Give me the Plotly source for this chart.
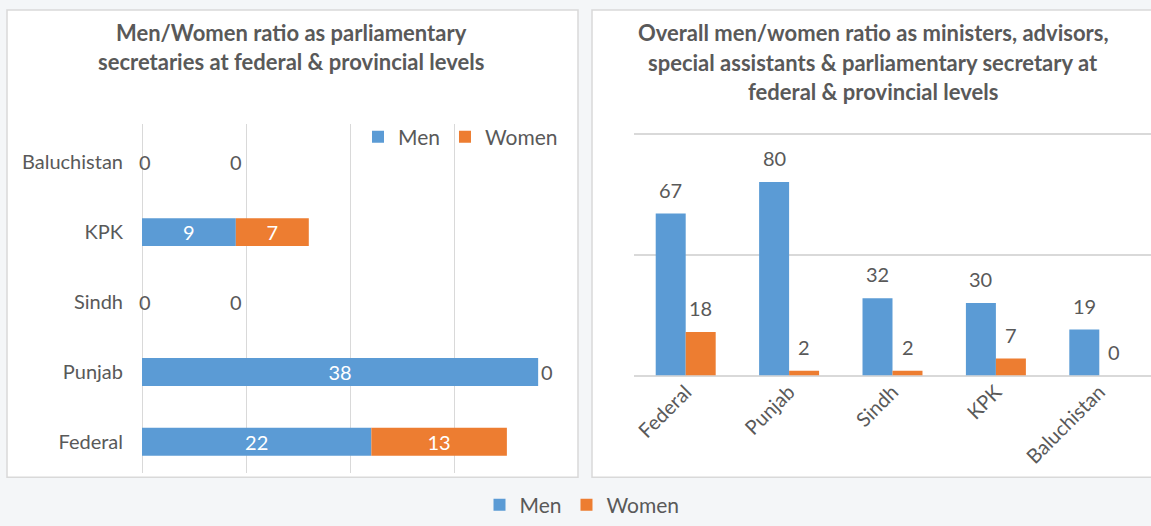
import plotly.graph_objects as go

# ---- data ----
left_cats = ["Federal", "Punjab", "Sindh", "KPK", "Baluchistan"]
left_men = [22, 38, 0, 9, 0]
left_women = [13, 0, 0, 7, 0]

right_cats = ["Federal", "Punjab", "Sindh", "KPK", "Baluchistan"]
right_men = [67, 80, 32, 30, 19]
right_women = [18, 2, 2, 7, 0]

left_title = ["Men/Women ratio as parliamentary",
              "secretaries at federal & provincial levels"]
right_title = ["Overall men/women ratio as ministers, advisors,",
               "special assistants & parliamentary secretary at",
               "federal & provincial levels"]

BLUE = "#5B9BD5"
ORANGE = "#ED7D31"
GRAY = "#595959"
GRID = "#d9d9d9"
FONT = "Lato"
W, H = 1151, 526
TITLE_SIZE = 22
LABEL_SIZE = 20
LEGEND_SIZE = 21

def px(x):
    return x / W

def py(y):
    return 1 - y / H

fig = go.Figure()

# left stacked horizontal bars (stacked via base so the right chart can stay grouped)
fig.add_trace(go.Bar(
    y=left_cats, x=left_men, orientation="h", name="Men",
    width=0.4, offset=-0.2,
    marker=dict(color=BLUE, line=dict(width=0)),
    text=[str(v) if v else "" for v in left_men],
    textposition="inside", insidetextanchor="middle", constraintext="none",
    textangle=0,
    textfont=dict(color="white", size=LABEL_SIZE, family=FONT),
    xaxis="x", yaxis="y", legend="legend",
))
fig.add_trace(go.Bar(
    y=left_cats, x=left_women, base=left_men, orientation="h", name="Women",
    width=0.4, offset=-0.2,
    marker=dict(color=ORANGE, line=dict(width=0)),
    text=[str(v) if v else "" for v in left_women],
    textposition="inside", insidetextanchor="middle", constraintext="none",
    textangle=0,
    textfont=dict(color="white", size=LABEL_SIZE, family=FONT),
    xaxis="x", yaxis="y", legend="legend",
))

# right grouped bars
fig.add_trace(go.Bar(
    x=right_cats, y=right_men, name="Men", width=0.29, offset=-0.29,
    marker=dict(color=BLUE, line=dict(width=0)),
    xaxis="x2", yaxis="y2", legend="legend2",
))
fig.add_trace(go.Bar(
    x=right_cats, y=right_women, name="Women", width=0.29, offset=0,
    marker=dict(color=ORANGE, line=dict(width=0)),
    xaxis="x2", yaxis="y2", legend="legend2",
))

annotations = []
lab_font = dict(color=GRAY, size=LABEL_SIZE, family=FONT)
# zero labels in the left chart (as placed in the original)
for cat, m, w in zip(left_cats, left_men, left_women):
    if m == 0 and w == 0:
        annotations.append(dict(x=0, y=cat, xref="x", yref="y", text="0",
                                showarrow=False, xanchor="center", xshift=3,
                                font=lab_font))
        annotations.append(dict(x=9, y=cat, xref="x", yref="y", text="0",
                                showarrow=False, xanchor="center", font=lab_font))
    elif w == 0:
        annotations.append(dict(x=m + w, y=cat, xref="x", yref="y", text="0",
                                showarrow=False, xanchor="left", xshift=1,
                                font=lab_font))

# value labels above the right chart's bars
for cat, m, w in zip(right_cats, right_men, right_women):
    annotations.append(dict(x=cat, y=m, xref="x2", yref="y2", text=str(m),
                            showarrow=False, xanchor="center", yanchor="middle",
                            xshift=-15, yshift=24, font=lab_font))
    annotations.append(dict(x=cat, y=w, xref="x2", yref="y2", text=str(w),
                            showarrow=False, xanchor="center", yanchor="middle",
                            xshift=15, yshift=24, font=lab_font))

for i, line in enumerate(left_title):
    annotations.append(dict(x=px(291), y=py(33 + 29 * i), xref="paper", yref="paper",
                            text="<b>" + line + "</b>", showarrow=False,
                            xanchor="center", yanchor="middle",
                            font=dict(color=GRAY, size=TITLE_SIZE, family=FONT)))
for i, line in enumerate(right_title):
    annotations.append(dict(x=px(873), y=py(33 + 29.5 * i), xref="paper", yref="paper",
                            text="<b>" + line + "</b>", showarrow=False,
                            xanchor="center", yanchor="middle",
                            font=dict(color=GRAY, size=TITLE_SIZE, family=FONT)))

shapes = [
    dict(type="rect", xref="paper", yref="paper", x0=px(7), x1=px(578),
         y0=py(480), y1=py(10), fillcolor="white",
         line=dict(color="#d9d9d9", width=1.5), layer="below"),
    dict(type="rect", xref="paper", yref="paper", x0=px(592), x1=px(1170),
         y0=py(480), y1=py(10), fillcolor="white",
         line=dict(color="#d9d9d9", width=1.5), layer="below"),
]

# right value axis: 0..102 so the gridline at 100 stays inside the plot area
R_ZERO_PX = 377.7
R_PX_PER_UNIT = 2.432
R_MAX = 102

fig.update_layout(
    width=W, height=H,
    margin=dict(l=0, r=0, t=0, b=0),
    paper_bgcolor="#f4f6f8", plot_bgcolor="rgba(0,0,0,0)",
    font=dict(family=FONT, color=GRAY, size=LABEL_SIZE),
    barmode="group",
    showlegend=True,
    shapes=shapes, annotations=annotations,
    xaxis=dict(domain=[px(142), px(559)], range=[0, 40], tickvals=[0, 10, 20, 30],
               showticklabels=False, showgrid=True, gridcolor=GRID, gridwidth=1,
               zeroline=True, zerolinecolor=GRID, zerolinewidth=1,
               showline=False, anchor="y", fixedrange=True),
    yaxis=dict(domain=[py(476), py(124.5)], categoryorder="array",
               categoryarray=left_cats, range=[-0.45, 4.55],
               showgrid=False, zeroline=False,
               showline=False, ticks="", ticklabelstandoff=18,
               tickfont=dict(size=LABEL_SIZE, color=GRAY, family=FONT), anchor="x"),
    xaxis2=dict(domain=[px(634), 1.0], showgrid=False, zeroline=False,
                showline=False, ticks="", tickangle=-45,
                tickfont=dict(size=LABEL_SIZE, color=GRAY, family=FONT), anchor="y2"),
    yaxis2=dict(domain=[py(R_ZERO_PX), py(R_ZERO_PX - R_MAX * R_PX_PER_UNIT)],
                range=[0, R_MAX], tickvals=[0, 50, 100],
                showticklabels=False, showgrid=True, gridcolor=GRID, gridwidth=1.5,
                zeroline=True, zerolinecolor=GRID, zerolinewidth=1.5,
                showline=False, anchor="x2"),
    legend=dict(orientation="h", x=px(358), y=py(138), xanchor="left",
                yanchor="middle", bgcolor="rgba(0,0,0,0)", traceorder="normal",
                font=dict(size=LEGEND_SIZE, color=GRAY, family=FONT), itemwidth=30),
    legend2=dict(orientation="h", x=px(582), y=py(508), xanchor="center",
                 yanchor="middle", bgcolor="rgba(0,0,0,0)", traceorder="normal",
                 font=dict(size=LEGEND_SIZE, color=GRAY, family=FONT), itemwidth=30),
)

fig.write_html("out.html")
